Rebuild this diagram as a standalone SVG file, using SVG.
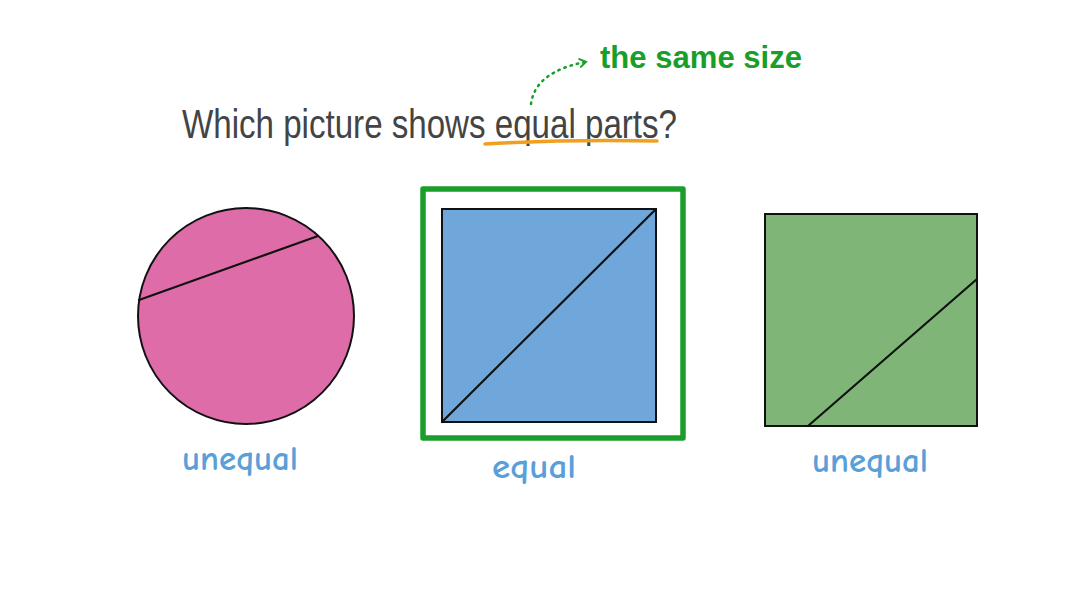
<svg xmlns="http://www.w3.org/2000/svg" width="1088" height="612" viewBox="0 0 1088 612">
<style>
.shape{stroke:#111;stroke-width:2}
.cut{stroke:#111;stroke-width:2.2;fill:none;stroke-linecap:round}
.lbl{font-family:"Comic Neue","Liberation Sans",sans-serif;fill:#5a9fd8;font-size:34px;font-weight:bold}
.title{font-family:"Liberation Sans Narrow","Liberation Sans",sans-serif;fill:#444;font-size:40px}
.note{font-family:"Liberation Sans",sans-serif;fill:#1a9e2a;font-size:32px;font-weight:bold}
</style>
<defs>
<marker id="ah" markerWidth="10" markerHeight="10" refX="6" refY="5" orient="auto" markerUnits="userSpaceOnUse">
<path d="M1,1 L7,5 L1,9" fill="none" stroke="#1a9e2a" stroke-width="2" stroke-linecap="round"/>
</marker>
</defs>
<rect width="1088" height="612" fill="#fff"/>
<g id="title">
<text class="title" x="182" y="138" textLength="495" lengthAdjust="spacingAndGlyphs">Which picture shows equal parts?</text>
<path d="M485,144 Q570,139 657,141" stroke="#f0a020" stroke-width="3.5" fill="none" stroke-linecap="round"/>
</g>
<g id="note">
<text class="note" x="600" y="68" textLength="202" lengthAdjust="spacingAndGlyphs">the same size</text>
</g>
<g id="connectors">
<path d="M531,104 Q535,72 585,62" fill="none" stroke="#1a9e2a" stroke-width="2.5" stroke-dasharray="1.5,5" stroke-linecap="round" marker-end="url(#ah)"/>
</g>
<g id="circle">
<circle class="shape" cx="246" cy="316" r="108" fill="#dd6ca8"/>
<line class="cut" x1="139" y1="300" x2="318" y2="236"/>
<text class="lbl" x="182" y="470" textLength="116" lengthAdjust="spacingAndGlyphs">unequal</text>
</g>
<g id="blue-square">
<rect x="423" y="189" width="260" height="249" fill="none" stroke="#1a9e2a" stroke-width="5.5" stroke-linejoin="round"/>
<rect class="shape" x="442" y="209" width="214" height="213" fill="#70a7da"/>
<line class="cut" x1="442" y1="422" x2="656" y2="209"/>
<text class="lbl" x="492" y="478" textLength="84" lengthAdjust="spacingAndGlyphs">equal</text>
</g>
<g id="green-square">
<rect class="shape" x="765" y="214" width="212" height="212" fill="#7fb677"/>
<line class="cut" x1="808" y1="426" x2="977" y2="279"/>
<text class="lbl" x="812" y="472" textLength="116" lengthAdjust="spacingAndGlyphs">unequal</text>
</g>
</svg>
